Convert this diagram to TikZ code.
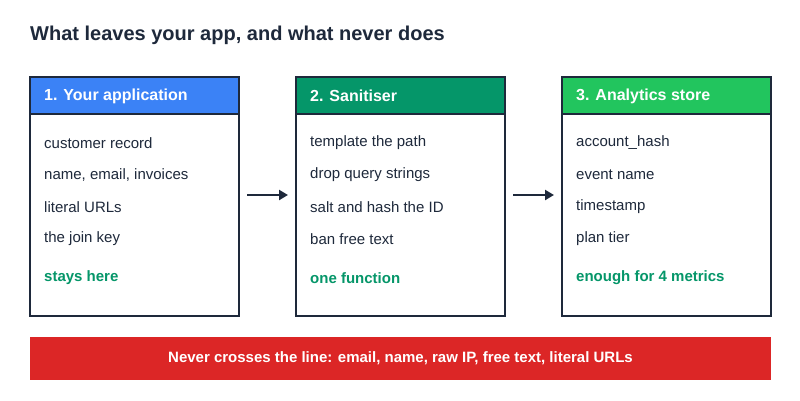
\documentclass[tikz,border=0pt]{standalone}
\usepackage{fontspec}
\setmainfont{Liberation Sans}
\usetikzlibrary{arrows.meta}
\definecolor{ink}{HTML}{1E293B}
\definecolor{hblue}{HTML}{3B82F6}
\definecolor{hteal}{HTML}{059669}
\definecolor{hgreen}{HTML}{22C55E}
\definecolor{fgreen}{HTML}{059669}
\definecolor{bred}{HTML}{DC2626}
\begin{document}
\begin{tikzpicture}[x=1pt,y=-1pt,
  item/.style={anchor=west,font=\fontsize{15}{18}\selectfont,text=ink,inner sep=0},
  foot/.style={anchor=west,font=\fontsize{15}{18}\selectfont\bfseries,text=fgreen,inner sep=0},
  head/.style={anchor=west,font=\fontsize{16}{19}\selectfont\bfseries,text=white,inner sep=0},
  arr/.style={-{Triangle[length=9pt,width=10pt]},line width=2.5pt,draw=ink}]
\useasboundingbox (0,0) rectangle (800,400);
\fill[white] (0,0) rectangle (800,400);
\node[anchor=west,font=\fontsize{20}{24}\selectfont\bfseries,text=ink,inner sep=0] (title) at (30,35) {What leaves your app, and what never does};
\foreach \x/\c/\h/\n in {30/hblue/1. Your application/A,296/hteal/2. Sanitiser/B,562/hgreen/3. Analytics store/C}{
  \fill[\c] (\x,77) rectangle ++(209,37);
  \draw[ink,line width=1.5pt] (\x,77) rectangle ++(209,239) ;
  \draw[ink,line width=1.5pt] (\x,114) -- ++(209,0);
  \node[head] (h\n) at (\x+14,96) {\h};
  \coordinate (L\n) at (\x,195);
  \coordinate (R\n) at (\x+209,195);
}
\node[item] (a1) at (44,143) {customer record};
\node[item] (a2) at (44,175) {name, email, invoices};
\node[item] (a3) at (44,207) {literal URLs};
\node[item] (a4) at (44,239) {the join key};
\node[foot] (a5) at (44,278) {stays here};
\node[item] (b1) at (310,143) {template the path};
\node[item] (b2) at (310,175) {drop query strings};
\node[item] (b3) at (310,207) {salt and hash the ID};
\node[item] (b4) at (310,239) {ban free text};
\node[foot] (b5) at (310,278) {one function};
\node[item] (c1) at (576,143) {account\_hash};
\node[item] (c2) at (576,175) {event name};
\node[item] (c3) at (576,207) {timestamp};
\node[item] (c4) at (576,239) {plan tier};
\node[foot] (c5) at (576,278) {enough for 4 metrics};
\draw[arr] ([xshift=8pt]RA) -- ([xshift=-8pt]LB);
\draw[arr] ([xshift=8pt]RB) -- ([xshift=-8pt]LC);
\fill[bred] (30,337) rectangle (771,380);
\node[font=\fontsize{15}{18}\selectfont\bfseries,text=white] (bar) at (400.5,358.5) {Never crosses the line: email, name, raw IP, free text, literal URLs};
\end{tikzpicture}
\end{document}
